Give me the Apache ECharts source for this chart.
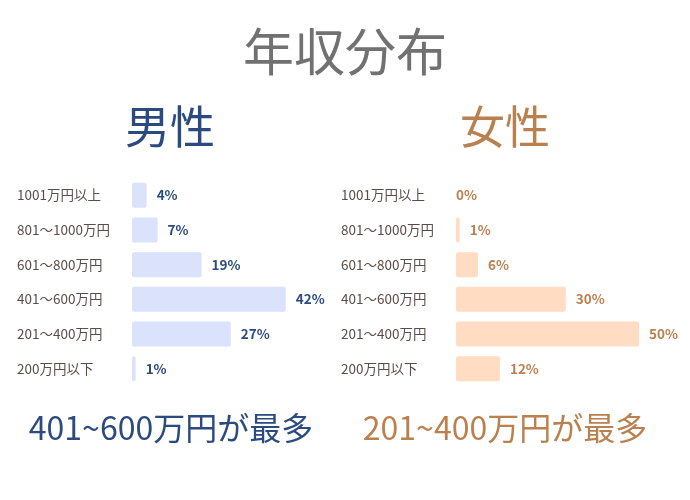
<!DOCTYPE html>
<html>
<head>
<meta charset="utf-8">
<script src="https://cdn.jsdelivr.net/npm/echarts@6/dist/echarts.min.js"></script>
<style>
html,body{margin:0;padding:0;background:#fff;}
#chart{width:690px;height:500px;}
</style>
</head>
<body>
<div id="chart"></div>
<script>
var categories = ['1001万円以上', '801～1000万円', '601～800万円', '401～600万円', '201～400万円', '200万円以下'];
var maleValues = [4, 7, 19, 42, 27, 1];
var femaleValues = [0, 1, 6, 30, 50, 12];
var titleText = '年収分布';
var maleTitle = '男性';
var femaleTitle = '女性';
var maleNote = '401~600万円が最多';
var femaleNote = '201~400万円が最多';

var FONT = '"Noto Sans CJK JP", "Noto Sans", sans-serif';
var BLUE = '#2b4a7f';
var BROWN = '#bb804f';

var chart = echarts.init(document.getElementById('chart'));

function yAx(idx) {
  return {
    type: 'category', gridIndex: idx, data: categories, inverse: true,
    axisLine: {show: false}, axisTick: {show: false}, splitLine: {show: false},
    axisLabel: {align: 'left', margin: 115, fontSize: 13.5, color: '#5a4d47', fontFamily: FONT}
  };
}
function xAx(idx) {
  return {type: 'value', gridIndex: idx, min: 0, max: 50, show: false};
}
function ser(idx, values, color, labelColor) {
  var data = values.map(function (v) {
    return v === 0 ? {value: v, label: {distance: 0}} : v;
  });
  return {
    type: 'bar', xAxisIndex: idx, yAxisIndex: idx, data: data, barWidth: 25,
    itemStyle: {color: color, borderRadius: 2},
    label: {show: true, position: 'right', distance: 10, formatter: '{c}%',
      fontSize: 13.5, fontWeight: 'bold', color: labelColor, fontFamily: FONT},
    silent: true
  };
}

chart.setOption({
  backgroundColor: '#fff',
  animation: false,
  grid: [
    {left: 132, top: 178, width: 183, height: 208},
    {left: 456, top: 178, width: 183, height: 208}
  ],
  xAxis: [xAx(0), xAx(1)],
  yAxis: [yAx(0), yAx(1)],
  series: [ser(0, maleValues, '#dae2fc', BLUE), ser(1, femaleValues, '#ffdcc2', BROWN)],
  graphic: [
    {type: 'text', x: 345, y: 52, style: {text: titleText, fill: '#717171', fontSize: 51, fontFamily: FONT, textAlign: 'center', textVerticalAlign: 'middle'}},
    {type: 'text', x: 170, y: 127, style: {text: maleTitle, fill: BLUE, fontSize: 45, fontFamily: FONT, textAlign: 'center', textVerticalAlign: 'middle'}},
    {type: 'text', x: 505, y: 127, style: {text: femaleTitle, fill: BROWN, fontSize: 45, fontFamily: FONT, textAlign: 'center', textVerticalAlign: 'middle'}},
    {type: 'text', x: 171, y: 428, style: {text: maleNote, fill: BLUE, fontSize: 32, fontFamily: FONT, textAlign: 'center', textVerticalAlign: 'middle'}},
    {type: 'text', x: 505, y: 428, style: {text: femaleNote, fill: BROWN, fontSize: 32, fontFamily: FONT, textAlign: 'center', textVerticalAlign: 'middle'}}
  ]
});
</script>
</body>
</html>
